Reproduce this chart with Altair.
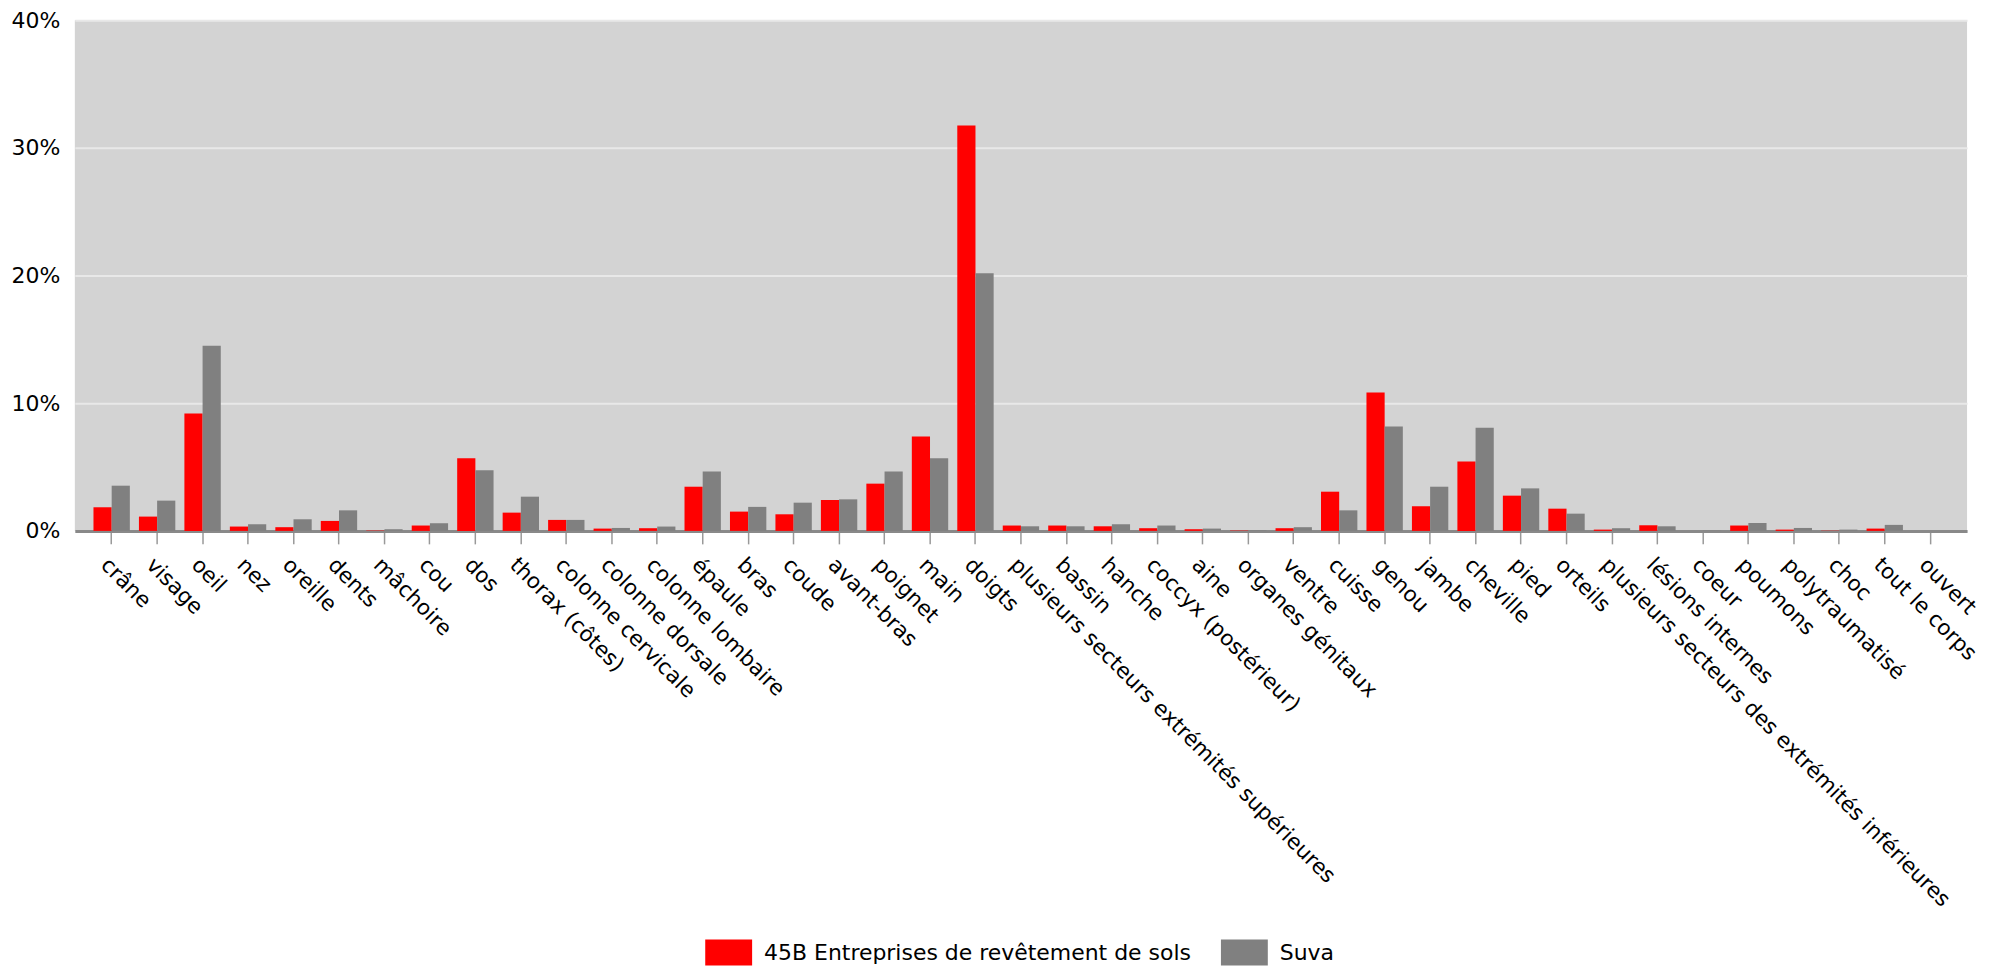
import altair as alt
import pandas as pd

categories = ["crâne", "visage", "oeil", "nez", "oreille", "dents", "mâchoire", "cou", "dos",
              "thorax (côtes)", "colonne cervicale", "colonne dorsale", "colonne lombaire", "épaule",
              "bras", "coude", "avant-bras", "poignet", "main", "doigts",
              "plusieurs secteurs extrémités supérieures", "bassin", "hanche", "coccyx (postérieur)",
              "aine", "organes génitaux", "ventre", "cuisse", "genou", "jambe", "cheville", "pied",
              "orteils", "plusieurs secteurs des extrémités inférieures", "lésions internes", "coeur",
              "poumons", "polytraumatisé", "choc", "tout le corps", "ouvert"]

series_names = ["45B Entreprises de revêtement de sols", "Suva"]

values_45b = [1.85, 1.12, 9.19, 0.34, 0.29, 0.78, 0.03, 0.42, 5.68, 1.43, 0.86, 0.18, 0.21, 3.46,
              1.51, 1.30, 2.42, 3.70, 7.40, 31.76, 0.42, 0.42, 0.36, 0.21, 0.13, 0.03, 0.21, 3.07,
              10.83, 1.93, 5.44, 2.76, 1.74, 0.10, 0.44, 0.0, 0.42, 0.10, 0.02, 0.18, 0.0]

values_suva = [3.54, 2.37, 14.5, 0.52, 0.91, 1.61, 0.13, 0.60, 4.74, 2.68, 0.86, 0.23, 0.34, 4.66,
               1.88, 2.21, 2.47, 4.66, 5.68, 20.17, 0.36, 0.36, 0.52, 0.42, 0.18, 0.05, 0.29, 1.61,
               8.18, 3.46, 8.07, 3.33, 1.35, 0.21, 0.36, 0.03, 0.62, 0.23, 0.10, 0.47, 0.0]

y_ticks = [0, 10, 20, 30, 40]
colors = ["#ff0000", "#808080"]

rows = []
for c, a, b in zip(categories, values_45b, values_suva):
    rows.append({"cat": c, "serie": series_names[0], "val": a})
    rows.append({"cat": c, "serie": series_names[1], "val": b})
df = pd.DataFrame(rows)

FONT = "DejaVu Sans"

chart = alt.Chart(df).mark_bar().encode(
    x=alt.X("cat:N", sort=categories, title=None,
            scale=alt.Scale(paddingInner=0.2, paddingOuter=0.41),
            axis=alt.Axis(labelAngle=45, labelAlign="left", labelBaseline="top",
                          labelFont=FONT, labelFontSize=21.5, labelColor="#000000",
                          labelPadding=10, labelLimit=1000,
                          domainColor="#898989", domainWidth=3,
                          tickColor="#999999", tickSize=13, tickWidth=1.5,
                          grid=False)),
    xOffset=alt.XOffset("serie:N", sort=series_names,
                        scale=alt.Scale(paddingInner=0, paddingOuter=0)),
    y=alt.Y("val:Q", title=None,
            scale=alt.Scale(domain=[0, 40], nice=False),
            axis=alt.Axis(values=y_ticks, labelExpr="datum.value + '%'",
                          labelFont=FONT, labelFontSize=22, labelColor="#000000",
                          labelPadding=15, domain=False, ticks=False,
                          grid=True, gridColor="#e8e8e8", gridWidth=2)),
    color=alt.Color("serie:N", sort=series_names,
                    scale=alt.Scale(domain=series_names, range=colors),
                    legend=alt.Legend(title=None, orient="none", direction="horizontal",
                                      legendX=632, legendY=911,
                                      symbolType="M-1,-0.553L1,-0.553L1,0.553L-1,0.553Z",
                                      symbolSize=2209, symbolStrokeWidth=0,
                                      symbolOpacity=1,
                                      labelFont=FONT, labelFontSize=22, labelColor="#000000",
                                      labelOffset=12, columnPadding=29, padding=0,
                                      labelLimit=1000)),
).properties(
    width=1897,
    height=512,
    padding={"left": 3, "top": 0, "right": 5, "bottom": 0},
).configure_view(
    fill="#d3d3d3",
    strokeWidth=0,
)

chart.save("out.html", embed_options={"renderer": "svg", "actions": False})
